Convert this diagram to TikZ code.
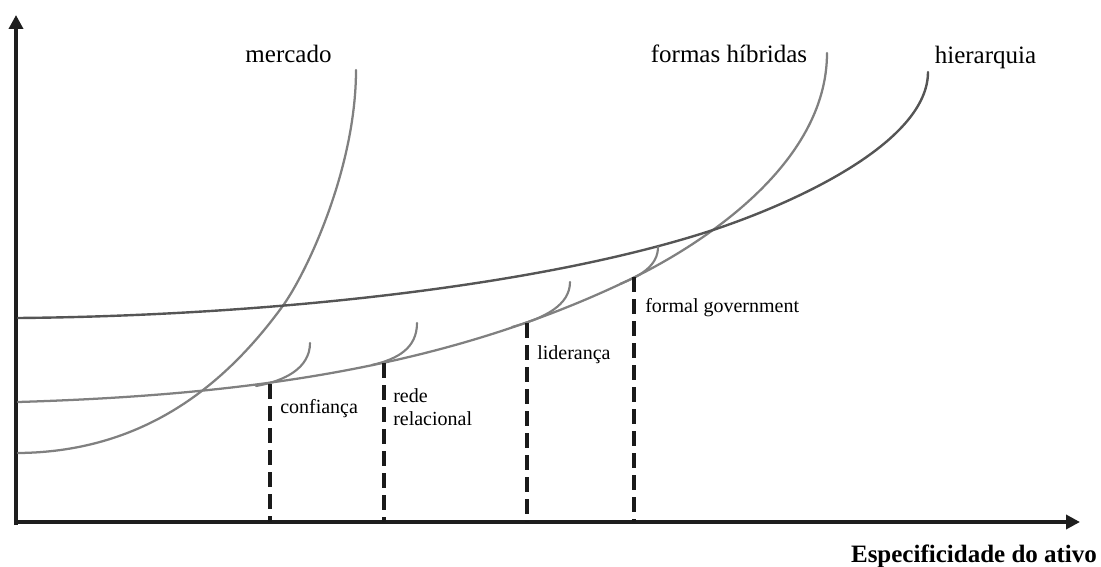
\documentclass[tikz,border=0pt]{standalone}
\usepackage{fontspec}
\setmainfont{Liberation Serif}
\usetikzlibrary{arrows.meta}
\definecolor{axiscol}{HTML}{1E1E1E}
\definecolor{curvecol}{HTML}{808080}
\definecolor{hiercol}{HTML}{555555}
\definecolor{dashcol}{HTML}{1A1A1A}
\begin{document}
\begin{tikzpicture}[x=0.75pt,y=-0.75pt,
  axisline/.style={line width=3.4pt, draw=axiscol, -{Triangle[length=10.5pt,width=10.5pt]}},
  curve/.style={line width=1.7pt, draw=curvecol, line cap=round},
  hiercurve/.style={line width=1.8pt, draw=hiercol, line cap=round},
  hook/.style={line width=1.6pt, draw=curvecol, line cap=round},
  level/.style={line width=2.6pt, draw=dashcol, dash pattern=on 11.25pt off 5.25pt},
  biglabel/.style={inner sep=0pt, anchor=base, font=\fontsize{18.75}{22}\selectfont},
  smalllabel/.style={inner sep=0pt, anchor=base west, font=\fontsize{15}{18}\selectfont}]
\useasboundingbox (0,0) rectangle (1101,567);

% axes
\coordinate (O) at (16,522);
\coordinate (ytip) at (16,15);
\coordinate (xtip) at (1080,522);
\draw[axisline] (16,525) -- (ytip);
\draw[axisline] (14,522) -- (xtip);

% governance cost curves
% market
\draw[curve] (18,453) .. controls (150,452) and (230,378) .. (282,307)
                      .. controls (305,276) and (356,170) .. (356,70);
% hybrid forms
\draw[curve] (18,402) .. controls (250,395) and (450,367) .. (633,278)
                      .. controls (700,245) and (827,165) .. (827,53);
% hierarchy
\draw[hiercurve] (18,318) .. controls (250,316) and (533,289) .. (713,230)
                          .. controls (803,200) and (928,140) .. (928,72);

% small hooks branching off the hybrid curve
\draw[hook] (256,386) .. controls (285,381) and (310,368) .. (310,343);
\draw[hook] (372,365) .. controls (398,359) and (417,348) .. (417,323);
\draw[hook] (512,327) .. controls (545,318) and (570,305) .. (570,282);
\draw[hook] (620,284) .. controls (640,276) and (658,266) .. (658,247);

% dashed levels down to the horizontal axis
\coordinate (l1) at (270,384);
\coordinate (l2) at (384,363);
\coordinate (l3) at (527,323);
\coordinate (l4) at (634,277);
\foreach \c in {l1,l2,l3,l4}
  \draw[level] (\c) -- (\c |- O);

% labels
\node[biglabel] (mercado) at (288.5,63) {mercado};
\node[biglabel] (hibridas) at (729,63) {formas híbridas};
\node[biglabel] (hierarquia) at (985.5,64) {hierarquia};
\node[biglabel, font=\fontsize{18.75}{22}\selectfont\bfseries] (xlabel) at (974,562) {Especificidade do ativo};

\node[smalllabel] (confianca) at (280,413) {confiança};
\node[smalllabel] (rede) at (393,402) {rede};
\node[smalllabel] (relacional) at (393,425) {relacional};
\node[smalllabel] (lideranca) at (537,359) {liderança};
\node[smalllabel] (formal) at (645,312) {formal government};
\end{tikzpicture}
\end{document}
